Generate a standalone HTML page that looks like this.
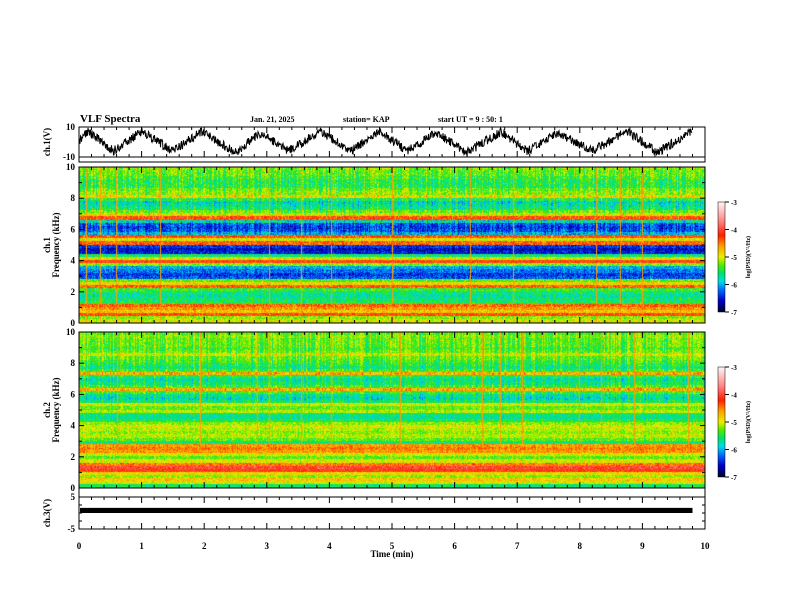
<!DOCTYPE html>
<html><head><meta charset="utf-8"><style>
body{margin:0;background:#fff;width:792px;height:612px;overflow:hidden;position:relative;font-family:"Liberation Serif",serif;}
canvas{position:absolute;}
svg{position:absolute;left:0;top:0;}
text{font-family:"Liberation Serif",serif;font-weight:bold;fill:#000;}
</style></head><body>
<canvas id="spec1" width="626" height="156" style="left:79px;top:167px;width:626px;height:156px"></canvas>
<canvas id="spec2" width="626" height="156" style="left:79px;top:332px;width:626px;height:156px"></canvas>
<canvas id="cb1" width="7" height="110" style="left:718px;top:202px;width:7px;height:110px"></canvas>
<canvas id="cb2" width="7" height="110" style="left:718px;top:367px;width:7px;height:110px"></canvas>
<svg id="ov" width="792" height="612"></svg>
<script>
// ---- data ----
const timeTicks=[0,1,2,3,4,5,6,7,8,9,10];
const freqTicks=[0,2,4,6,8,10];
const cbTicks=[-3,-4,-5,-6,-7];
const wavePeakTimes=[0.15,1.0,1.95,2.9,3.85,4.8,5.7,6.75,7.65,8.75,9.8];
const wavePeakVals=[7,7,7,6,7,7,6,7,6,7,8];
const waveTroughTimes=[0.55,1.5,2.5,3.35,4.35,5.25,6.2,7.15,8.2,9.25];
const waveTroughVals=[-6,-6,-7,-6,-6,-6,-7,-6,-6,-7];
const ch3Level=0.8;
const ch3Halfwidth=0.8;
// log PSD per 0.2 kHz bin, from 0 kHz upward
const ch1Profile=[-5.0,-5.2,-4.3,-4.8,-4.6,-4.4,-5.5,-5.6,-5.7,-5.6,-5.4,-4.4,-4.9,-5.3,-6.3,-6.4,-6.2,-6.0,-5.2,-4.2,-5.0,-5.6,-6.5,-6.6,-6.4,-4.4,-5.0,-4.3,-6.0,-6.3,-6.4,-6.3,-5.8,-4.3,-5.0,-5.3,-5.6,-5.7,-5.8,-5.5,-4.9,-5.2,-5.3,-5.5,-5.5,-5.5,-5.4,-5.3,-5.3,-5.2];
const ch2Profile=[-5.6,-5.0,-4.8,-5.2,-4.9,-4.2,-4.0,-4.5,-5.0,-5.3,-5.0,-4.6,-4.5,-4.6,-5.6,-5.3,-5.1,-5.2,-5.1,-5.0,-5.2,-5.5,-5.7,-5.6,-5.1,-5.3,-5.0,-5.6,-5.8,-5.7,-5.4,-4.7,-5.4,-5.6,-5.7,-5.5,-4.7,-5.4,-5.6,-5.5,-5.4,-5.3,-5.0,-5.3,-5.4,-5.3,-5.3,-5.3,-5.2,-5.3];
const ch1Spikes=[0.11,0.33,0.59,1.3,3.03,3.55,4.03,5.0,6.25,6.93,8.26,8.64,9.0];
const ch2Spikes=[0.6,1.94,2.85,3.03,3.55,4.03,5.13,6.43,6.72,7.07,7.98,8.34,8.87,9.73];

// ---- geometry ----
const X0=79,X1=705;
const xs=t=>X0+(X1-X0)*t/10;
const svg=document.getElementById('ov');
const NS='http://www.w3.org/2000/svg';
function el(tag,attrs,parent){const e=document.createElementNS(NS,tag);for(const k in attrs)e.setAttribute(k,attrs[k]);(parent||svg).appendChild(e);return e;}
function txt(s,x,y,size,anchor,parent,rot){const e=el('text',{x:x,y:y,'font-size':size,'text-anchor':anchor||'start'},parent);if(rot)e.setAttribute('transform','rotate(-90 '+x+' '+y+')');e.textContent=s;return e;}

const cmStops=[[-7,[0,0,50]],[-6.6,[0,0,200]],[-6.2,[0,110,255]],[-5.9,[0,220,230]],[-5.6,[0,225,110]],[-5.3,[80,235,0]],[-5.0,[235,240,0]],[-4.6,[255,160,0]],[-4.2,[255,30,0]],[-3.7,[255,130,130]],[-3,[255,245,245]]];
function cmap(v){if(v<=-7)return cmStops[0][1];if(v>=-3)return cmStops[cmStops.length-1][1];
 for(let i=0;i<cmStops.length-1;i++){const a=cmStops[i],b=cmStops[i+1];if(v<=b[0]){const f=(v-a[0])/(b[0]-a[0]);return [0,1,2].map(k=>a[1][k]+(b[1][k]-a[1][k])*f);}}}
function hsh(a,b){let s=Math.sin(a*127.1+b*311.7)*43758.5453;return s-Math.floor(s)-0.5;}

function drawSpec(id,profile,spikes,seed,spikeFloor,noise){
 const c=document.getElementById(id),ctx=c.getContext('2d'),W=c.width,H=c.height;
 const img=ctx.createImageData(W,H);
 const spikeCols=spikes.map(t=>Math.round(xs(t)-X0));
 for(let x=0;x<W;x++){
  const colV=hsh(x,seed)*0.6;
  const isSpike=spikeCols.some(s=>s===x);
  for(let y=0;y<H;y++){
   const f=(H-1-y)/H*10;
   let bi=Math.min(profile.length-1,Math.floor(f/0.2));
   let v=profile[bi]+colV*(f>5.4?0.8:0.3)+hsh(x*0.37,y+seed)*noise;
   if(isSpike&&f>spikeFloor)v=Math.max(v,-4.6);
   const col=cmap(v),i=(y*W+x)*4;
   img.data[i]=col[0];img.data[i+1]=col[1];img.data[i+2]=col[2];img.data[i+3]=255;
  }}
 ctx.putImageData(img,0,0);
}
drawSpec('spec1',ch1Profile,ch1Spikes,3,0,0.6);
drawSpec('spec2',ch2Profile,ch2Spikes,7,2.5,0.5);
function drawCb(id){const c=document.getElementById(id),ctx=c.getContext('2d');
 for(let y=0;y<110;y++){const v=-3-4*y/109;const col=cmap(v);ctx.fillStyle='rgb('+col.map(Math.round).join(',')+')';ctx.fillRect(0,y,7,1);}}
drawCb('cb1');drawCb('cb2');

// ---- titles ----
const t1=txt('VLF Spectra',80,122,11);


const t2=txt('Jan. 21, 2025',250,122,8);


const t3=txt('station= KAP',343,122,8);


const t4=txt('start  UT =   9 : 50: 1',438,122,8);



// ---- panels ----
function panel(name,top,bot,ylabels,ylab1,ylab2){
 const g=el('g',{});
 
 
 el('rect',{x:X0,y:top,width:X1-X0,height:bot-top,fill:'none',stroke:'#000','stroke-width':1},g);
 for(let k=0;k<=50;k++){const x=xs(k*0.2),L=(k%5==0)?6:3;
  el('line',{x1:x,y1:top,x2:x,y2:top+L,stroke:'#000','stroke-width':1},g);
  el('line',{x1:x,y1:bot,x2:x,y2:bot-L,stroke:'#000','stroke-width':1},g);}
 ylabels.forEach(([lab,frac])=>{const y=bot-(bot-top)*frac;
  el('line',{x1:X0,y1:y,x2:X0+5,y2:y,stroke:'#000'},g);el('line',{x1:X1,y1:y,x2:X1-5,y2:y,stroke:'#000'},g);
  txt(lab,X0-4,y+3,9,'end',g);});
 const mid=(top+bot)/2;
 if(ylab2){txt(ylab1,50,mid,9,'middle',g,true);txt(ylab2,59,mid,9,'middle',g,true);}
 else txt(ylab1,50,mid,9,'middle',g,true);
 return g;}
panel('ch1-waveform-panel',127,157,[['10',1],['-10',0]],'ch.1(V)');
el('rect',{x:X0,y:157,width:X1-X0,height:5,fill:'none',stroke:'#000'});
const fl=freqTicks.map(f=>[String(f),f/10]);
panel('ch1-spectrogram-panel',167,323,fl,'ch.1','Frequency (kHz)');
panel('ch2-spectrogram-panel',332,488,fl,'ch.2','Frequency (kHz)');
[[167,323],[332,488]].forEach(([a,b])=>{for(let k=1;k<10;k+=2){const y=b-(b-a)*k/10;el('line',{x1:X0,y1:y,x2:X0+3,y2:y,stroke:'#000'});el('line',{x1:X1,y1:y,x2:X1-3,y2:y,stroke:'#000'});}});
el('rect',{x:X0,y:488,width:X1-X0,height:9,fill:'none',stroke:'#000'});
panel('ch3-waveform-panel',497,529,[['5',1],['-5',0]],'ch.3(V)');
[0.25,0.5,0.75].forEach(fr=>{const y=529-32*fr;el('line',{x1:X0,y1:y,x2:X0+3,y2:y,stroke:'#000'});el('line',{x1:X1,y1:y,x2:X1-3,y2:y,stroke:'#000'});});

// ch1 waveform
const ys1=v=>142-15*v/10;
let verts=[];
wavePeakTimes.forEach((t,i)=>verts.push([t,wavePeakVals[i]]));
waveTroughTimes.forEach((t,i)=>verts.push([t,waveTroughVals[i]]));
verts.sort((a,b)=>a[0]-b[0]);
verts.unshift([0,(verts[0][1]+verts[1][1])/2]);
let pts=[];
for(let px=0;px<=613;px+=0.5){const t=px/62.6;let j=0;while(j<verts.length-2&&verts[j+1][0]<t)j++;
 const a=verts[j],b=verts[j+1];const f=Math.max(0,Math.min(1,(t-a[0])/(b[0]-a[0])));
 const v=Math.max(-9.5,Math.min(9.5,a[1]+(b[1]-a[1])*f+hsh(px,1)*6));pts.push(xs(t).toFixed(1)+','+ys1(v).toFixed(1));}
const wl=el('polyline',{points:pts.join(' '),fill:'none',stroke:'#000','stroke-width':1});


// ch3 band
const ys3=v=>513-16*v/5;
const band=el('rect',{x:X0+1,y:ys3(ch3Level+ch3Halfwidth),width:xs(9.8)-X0-1,height:ys3(ch3Level-ch3Halfwidth)-ys3(ch3Level+ch3Halfwidth),fill:'#000'});



timeTicks.forEach(t=>{const e=txt(String(t),xs(t),549,9,'middle');
 
 });
const xt=txt('Time  (min)',392,557,9,'middle');



[202,367].forEach((top,ci)=>{
 const g=el('g',{});
 
 
 el('rect',{x:718,y:top,width:7,height:110,fill:'none',stroke:'#000','stroke-width':0.5},g);
 cbTicks.forEach(v=>{const y=top+110*(-3-v)/4;el('line',{x1:725,y1:y,x2:729,y2:y,stroke:'#000'},g);txt(String(v),731,y+3,7,'start',g);});
 txt('log(PSD)(V\u00B2/Hz)',750,top+55,6,'middle',g,true);
});
</script>
</body></html>
